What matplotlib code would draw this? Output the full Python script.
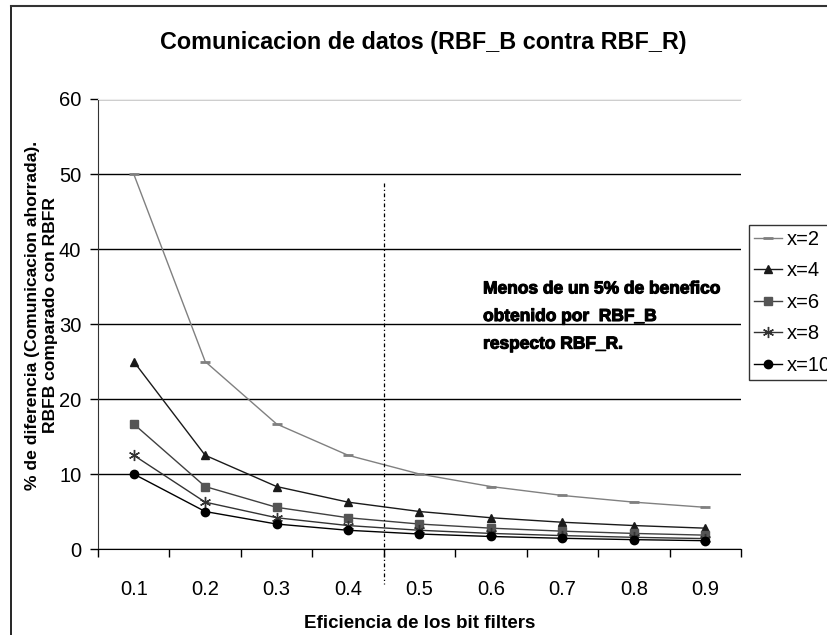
import numpy as np
import matplotlib.pyplot as plt
import matplotlib.patheffects as pe
from matplotlib.lines import Line2D

plt.rcParams['font.family'] = ['Liberation Sans', 'DejaVu Sans']

efficiency = ['0.1', '0.2', '0.3', '0.4', '0.5', '0.6', '0.7', '0.8', '0.9']
x2 = [50.0, 25.0, 16.67, 12.5, 10.0, 8.33, 7.14, 6.25, 5.56]
x4 = [25.0, 12.5, 8.33, 6.25, 5.0, 4.17, 3.57, 3.13, 2.78]
x6 = [16.67, 8.33, 5.56, 4.17, 3.33, 2.78, 2.38, 2.08, 1.85]
x8 = [12.5, 6.25, 4.17, 3.13, 2.5, 2.08, 1.79, 1.56, 1.39]
x10 = [10.0, 5.0, 3.33, 2.5, 2.0, 1.67, 1.43, 1.25, 1.11]
series_names = ['x=2', 'x=4', 'x=6', 'x=8', 'x=10']
threshold_at = 3.5  # between 0.4 and 0.5

fig = plt.figure(figsize=(8.27, 6.35), dpi=100)
ax = fig.add_axes([0.1185, 0.1354, 0.7775, 0.7087])

pos = np.arange(len(efficiency))
asterisk = (6, 2, 0)
styles = [
    dict(color='#808080', marker='_', ms=7, mew=2, mfc='#808080', mec='#808080'),
    dict(color='#1a1a1a', marker='^', ms=6, mfc='#1a1a1a', mec='#1a1a1a'),
    dict(color='#404040', marker='s', ms=6, mfc='#555555', mec='#555555'),
    dict(color='#333333', marker=asterisk, ms=8, mew=1, mfc='#333333', mec='#333333'),
    dict(color='#000000', marker='o', ms=6, mfc='#000000', mec='#000000'),
]
for vals, name, st in zip([x2, x4, x6, x8, x10], series_names, styles):
    ax.plot(pos, vals, lw=1, label=name, zorder=3, **st)

ax.set_xlim(-0.5, len(efficiency) - 0.5)
ax.set_ylim(0, 60)
ax.set_yticks(range(0, 61, 10))
ax.set_xticks(pos)
ax.set_xticklabels(efficiency)
ax.set_xticks(np.arange(-0.5, len(efficiency), 1), minor=True)
ax.tick_params(axis='x', which='major', length=0, pad=22, labelsize=14.5)
ax.tick_params(axis='x', which='minor', length=6, width=1, direction='out')
ax.tick_params(axis='y', length=6, width=1, direction='out', labelsize=14.5, pad=6)

ax.yaxis.grid(True, color='black', lw=1)
ax.set_axisbelow(True)
ax.spines['right'].set_visible(False)
ax.spines['top'].set_color('#eeeeee')
ax.spines['left'].set_color('#333333')
ax.spines['bottom'].set_color('black')

# threshold line
ax.plot([threshold_at, threshold_at], [48.8, -4.6], color='black', lw=0.9,
        linestyle=(0, (3, 2, 1, 2)), clip_on=False, zorder=4)

note = ax.text(4.89, 31.0, 'Menos de un 5% de benefico\nobtenido por  RBF_B\nrespecto RBF_R.',
               fontsize=12.5, fontweight='bold', va='center', ha='left', linespacing=2.05)
note.set_path_effects([pe.withStroke(linewidth=0.8, foreground='black')])

ax.set_xlabel('Eficiencia de los bit filters', fontsize=13.5, fontweight='bold', labelpad=12)
fig.text(0.0387, 0.504, '% de diferencia (Comunicacion ahorrada).', rotation=90,
         fontsize=12.6, fontweight='bold', ha='center', va='center')
fig.text(0.0605, 0.504, 'RBFB comparado con RBFR', rotation=90,
         fontsize=12.6, fontweight='bold', ha='center', va='center')
fig.text(0.512, 0.933, 'Comunicacion de datos (RBF_B contra RBF_R)',
         fontsize=16.8, fontweight='bold', ha='center', va='center')

leg = ax.legend(loc='upper left', bbox_to_anchor=(0.906, 0.646), bbox_transform=fig.transFigure,
                fontsize=14.5, frameon=True, fancybox=False, edgecolor='black',
                handlelength=1.4, handletextpad=0.2, labelspacing=0.62,
                borderpad=0.25, borderaxespad=0)
leg.get_frame().set_linewidth(1)

# outer chart frame (left and top edges)
fig.add_artist(Line2D([0.013, 0.013], [0.0, 0.99], color='black', lw=1.2))
fig.add_artist(Line2D([0.013, 1.0], [0.99, 0.99], color='#333333', lw=1.5))

fig.savefig('out.png', dpi=100)
